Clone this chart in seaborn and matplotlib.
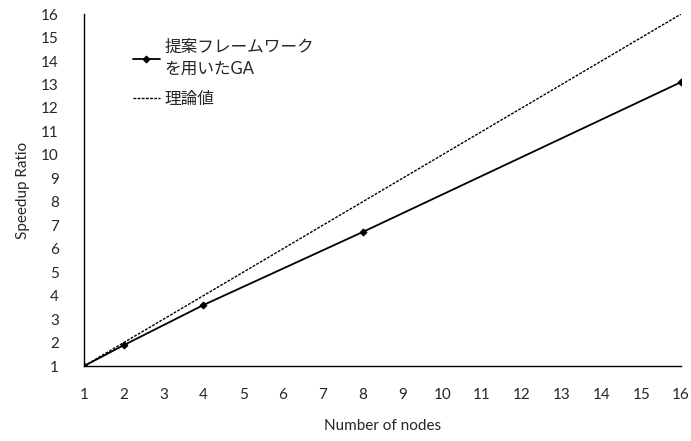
import matplotlib
matplotlib.use("Agg")
import matplotlib.pyplot as plt
import numpy as np
import pandas as pd
import seaborn as sns

nodes = [1, 2, 4, 8, 16]
speedup = [1.0, 1.89, 3.6, 6.71, 13.1]
theory_nodes = [1, 16]
theory = [1, 16]

label_ga = "提案フレームワーク\nを用いたGA"
label_theory = "理論値"

sns.set_theme(style="white")
plt.rcParams["font.family"] = ["Lato", "Noto Sans CJK JP", "DejaVu Sans"]
plt.rcParams["xtick.direction"] = "in"
plt.rcParams["ytick.direction"] = "in"

fig, ax = plt.subplots(figsize=(6.91, 4.41), dpi=100)

df = pd.DataFrame({"nodes": nodes, "speedup": speedup})
sns.lineplot(data=df, x="nodes", y="speedup", ax=ax, color="black", lw=1.3,
             marker="D", markersize=3.5, markeredgecolor="black", label=label_ga)
ax.plot(theory_nodes, theory, color="black", lw=1.0, ls=(0, (2, 1)), label=label_theory)

ax.set_xlim(1, 16)
ax.set_ylim(1, 16)
ax.set_xticks(range(1, 17))
ax.set_yticks(range(1, 17))
ax.tick_params(axis="both", labelsize=11, length=5, width=1, color="black")
ax.tick_params(axis="x", pad=16)
ax.tick_params(axis="y", pad=18)
ax.set_xlabel("Number of nodes", fontsize=11, labelpad=12)
ax.set_ylabel("Speedup Ratio", fontsize=11, labelpad=8)
for s in ("top", "right"):
    ax.spines[s].set_visible(False)
for s in ("left", "bottom"):
    ax.spines[s].set_color("black")
    ax.spines[s].set_linewidth(1.0)

leg = ax.legend(loc="upper left", bbox_to_anchor=(0.082, 0.93), frameon=False,
                borderaxespad=0, borderpad=0,
                fontsize=12, handlelength=1.6, handletextpad=0.3, labelspacing=0.8)
for t in leg.get_texts():
    t.set_linespacing(1.5)

fig.subplots_adjust(left=0.1216, right=0.9855, bottom=0.17, top=0.968)
fig.savefig("out.png", dpi=100)
